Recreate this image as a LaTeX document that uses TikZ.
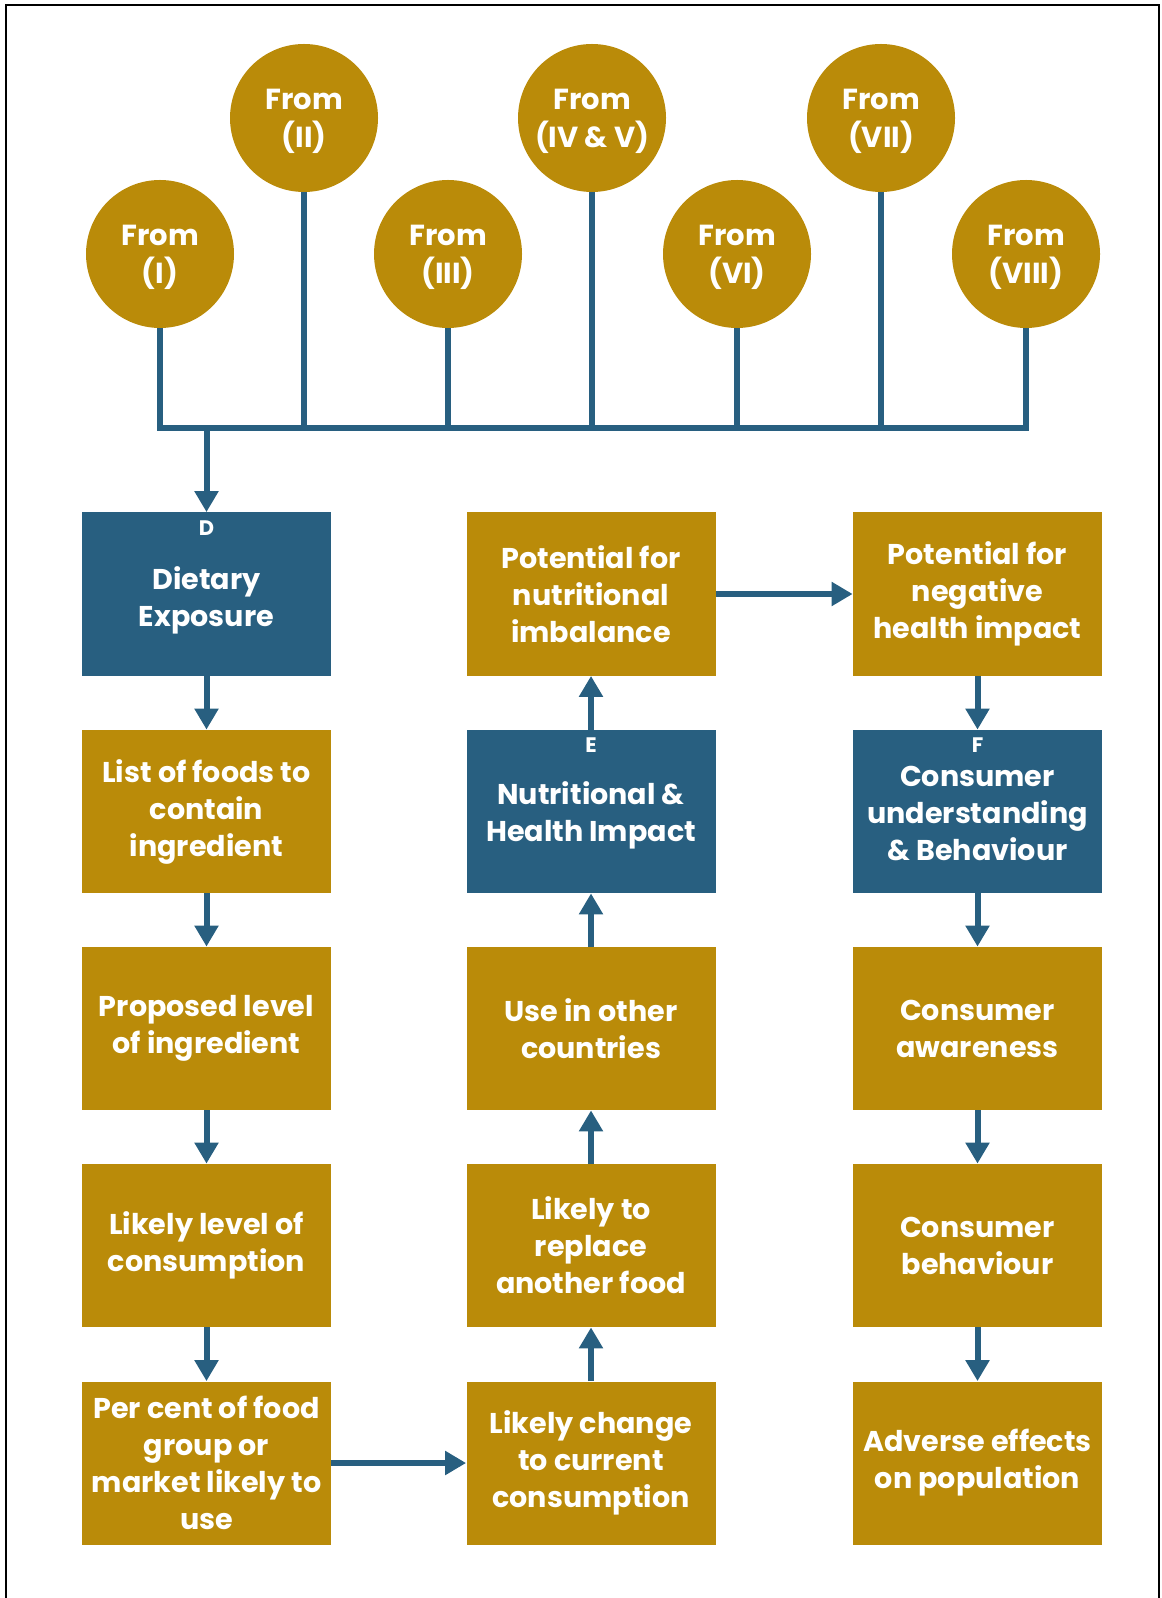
\documentclass[tikz,border=0pt]{standalone}
\usepackage{fontspec}
\setmainfont{Poppins}
\usetikzlibrary{arrows.meta}
\definecolor{gold}{RGB}{186,139,9}
\definecolor{navy}{RGB}{40,95,128}
\begin{document}
\begin{tikzpicture}[x=0.5pt,y=-0.5pt,
  gbox/.style={fill=gold, text=white, minimum width=124.5pt, minimum height=81.5pt, align=center, inner sep=0pt,
    font=\bfseries\fontsize{14.3}{18.5}\selectfont},
  bbox/.style={gbox, fill=navy},
  circ/.style={circle, fill=gold, minimum size=74pt, inner sep=0pt},
  ctext/.style={text=white, align=center, inner sep=0pt, font=\bfseries\fontsize{14.5}{19}\selectfont},
  btext/.style={text=white, align=center, inner sep=0pt, font=\bfseries\fontsize{14.3}{18.5}\selectfont},
  conn/.style={draw=navy, line width=3pt},
  arr/.style={conn, -{Triangle[width=11.5pt,length=10.5pt]}},
  lab/.style={text=white, font=\bfseries\fontsize{10.5}{11}\selectfont, inner sep=0pt},
]
\useasboundingbox (0,0) rectangle (1161,1598);
\draw[line width=1pt] (6,1598) -- (6,5) -- (1159,5) -- (1159,1598);

% circles
\node[circ] (c1) at (160,254) {};
\node[circ] (c2) at (304,118) {};
\node[circ] (c3) at (448,254) {};
\node[circ] (c4) at (592,118) {};
\node[circ] (c5) at (737,254) {};
\node[circ] (c6) at (881,118) {};
\node[circ] (c7) at (1026,254) {};
\node[ctext] (t1) at ([yshift=-1.5pt]c1.center) {From\\(I)};
\node[ctext] (t2) at ([yshift=-1.5pt]c2.center) {From\\(II)};
\node[ctext] (t3) at ([yshift=-1.5pt]c3.center) {From\\(III)};
\node[ctext] (t4) at ([yshift=-1.5pt]c4.center) {From\\(IV \& V)};
\node[ctext] (t5) at ([yshift=-1.5pt]c5.center) {From\\(VI)};
\node[ctext] (t6) at ([yshift=-1.5pt]c6.center) {From\\(VII)};
\node[ctext] (t7) at ([yshift=-1.5pt]c7.center) {From\\(VIII)};
\coordinate (bus) at (0,428);

% boxes
\node[bbox] (d)  at (206.5,594) {};
\node[gbox] (l2) at (206.5,811.5) {List of foods to\\contain\\ingredient};
\node[gbox] (l3) at (206.5,1028.5) {Proposed level\\of ingredient};
\node[gbox] (l4) at (206.5,1245.5) {Likely level of\\consumption};
\node[gbox] (l5) at (206.5,1463) {Per cent of food\\group or\\market likely to\\use};

\node[gbox] (m1) at (591,594) {Potential for\\nutritional\\imbalance};
\node[bbox] (e)  at (591,811.5) {};
\node[gbox] (m3) at (591,1028.5) {Use in other\\countries};
\node[gbox] (m4) at (591,1245.5) {Likely to\\replace\\another food};
\node[gbox] (m5) at (591,1463) {Likely change\\to current\\consumption};

\node[gbox] (r1) at (977.5,594) {Potential for\\negative\\health impact};
\node[bbox] (f)  at (977.5,811.5) {};
\node[gbox] (r3) at (977.5,1028.5) {Consumer\\awareness};
\node[gbox] (r4) at (977.5,1245.5) {Consumer\\behaviour};
\node[gbox] (r5) at (977.5,1463) {Adverse effects\\on population};

\node[btext] (dt) at ([yshift=-3pt]d.center) {Dietary\\Exposure};
\node[btext] (et) at ([yshift=-2pt]e.center) {Nutritional \&\\Health Impact};
\node[btext] (ft) at ([yshift=-1pt]f.center) {Consumer\\understanding\\\& Behaviour};
\node[lab] (dl) at ([yshift=-8pt]d.north) {D};
\node[lab] (el) at ([yshift=-8pt]e.north) {E};
\node[lab] (fl) at ([yshift=-8pt]f.north) {F};

% bus
\draw[conn, line join=miter] (c1.south) -- (c1.south |- bus) -- (c7.south |- bus) -- (c7.south);
\foreach \c in {c2,c3,c4,c5,c6} \draw[conn] (\c.south) -- (\c.south |- bus);
\draw[arr] (d.north |- bus) -- (d.north);

% arrows
\draw[arr] (d) -- (l2);
\draw[arr] (l2) -- (l3);
\draw[arr] (l3) -- (l4);
\draw[arr] (l4) -- (l5);
\draw[arr] (l5) -- (m5);
\draw[arr] (m5) -- (m4);
\draw[arr] (m4) -- (m3);
\draw[arr] (m3) -- (e);
\draw[arr] (e) -- (m1);
\draw[arr] (m1) -- (r1);
\draw[arr] (r1) -- (f);
\draw[arr] (f) -- (r3);
\draw[arr] (r3) -- (r4);
\draw[arr] (r4) -- (r5);
\end{tikzpicture}
\end{document}
